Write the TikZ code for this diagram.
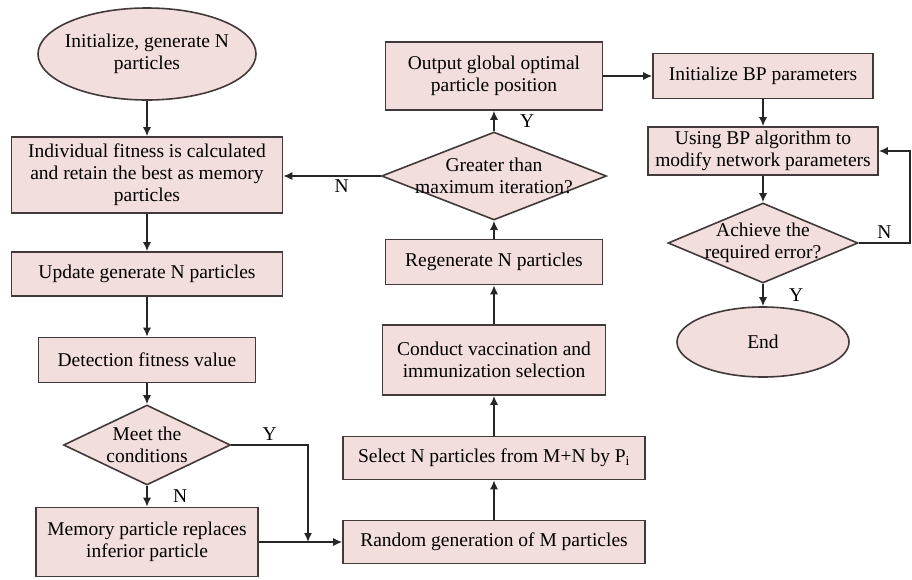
\documentclass[tikz,border=0pt]{standalone}
\usepackage{fontspec}
\setmainfont{Liberation Serif}
\usetikzlibrary{arrows, shapes, positioning, arrows.meta}

\definecolor{boxfill}{RGB}{242,222,220}
\definecolor{boxline}{RGB}{66,58,58}

\tikzset{
  proc/.style={rectangle, draw=boxline, fill=boxfill, line width=1.6pt, align=center, inner sep=2pt},
  dec/.style={diamond, draw=boxline, fill=boxfill, line width=1.6pt, align=center, inner sep=-100pt},
  term/.style={ellipse, draw=boxline, fill=boxfill, line width=1.6pt, align=center, inner sep=-100pt},
  flow/.style={-{Latex[length=9pt,width=8pt]}, line width=1.4pt, draw=black!85},
}

\begin{document}
\begin{tikzpicture}[x=1pt, y=-1pt, font=\fontsize{19.5}{22}\selectfont]
\useasboundingbox (0,0) rectangle (912,579);
% left column
\node (init)[term, minimum width=218, minimum height=92] at (147,54) {Initialize, generate N\\particles};
\node (indiv)[proc, minimum width=271, minimum height=76] at (147,175) {Individual fitness is calculated\\and retain the best as memory\\particles};
\node (update)[proc, minimum width=271, minimum height=44] at (147,274) {Update generate N particles};
\node (detect)[proc, minimum width=217, minimum height=45] at (147,360) {Detection fitness value};
\node (meet)[dec, minimum width=167, minimum height=80] at (147,445) {Meet the\\conditions};
\node (memory)[proc, minimum width=222, minimum height=69] at (147,542) {Memory particle replaces\\inferior particle};
\coordinate (ymerge) at (308,542);
% middle column
\node (random)[proc, minimum width=302, minimum height=43] at (494,542) {Random generation of M particles};
\node (select)[proc, minimum width=302, minimum height=43] at (494,458) {Select N particles from M+N by P\textsubscript{i}};
\node (conduct)[proc, minimum width=223, minimum height=70] at (494,360) {Conduct vaccination and\\immunization selection};
\node (regen)[proc, minimum width=217, minimum height=45] at (494,262) {Regenerate N particles};
\node (greater)[dec, minimum width=225, minimum height=88] at (494,176) {Greater than\\maximum iteration?};
\node (output)[proc, minimum width=217, minimum height=68] at (494,76) {Output global optimal\\particle position};
% right column
\node (initbp)[proc, minimum width=220, minimum height=45] at (763,76) {Initialize BP parameters};
\node (using)[proc, minimum width=230, minimum height=48] at (763,151) {Using BP algorithm to\\modify network parameters};
\node (achieve)[dec, minimum width=190, minimum height=80] at (763,243) {Achieve the\\required error?};
\node (end)[term, minimum width=172, minimum height=70] at (763,342) {End};
\coordinate (nturn) at (910,243);

\draw[flow] (init) -- (indiv);
\draw[flow] (indiv) -- (update);
\draw[flow] (update) -- (detect);
\draw[flow] (detect) -- (meet);
\draw[flow] (meet) -- (memory) node[midway, right=22pt] {N};
\draw[flow] (meet.east) -| (ymerge) node[pos=0.25, above] {Y};
\draw[flow] (memory.east) -- (memory.east -| random.west);
\draw[flow] (random) -- (select);
\draw[flow] (select) -- (conduct);
\draw[flow] (conduct) -- (regen);
\draw[flow] (regen) -- (greater);
\draw[flow] (greater) -- (output) node[midway, right=22pt] {Y};
\draw[flow] (greater.west) -- (greater.west -| indiv.east) node[pos=0.4, below] {N};
\draw[flow] (output) -- (initbp);
\draw[flow] (initbp) -- (using);
\draw[flow] (using) -- (achieve);
\draw[flow] (achieve) -- (end) node[midway, right=22pt] {Y};
\draw[flow] (achieve.east) -- (nturn) node[midway, above] {N} |- (using.east);
\end{tikzpicture}
\end{document}
